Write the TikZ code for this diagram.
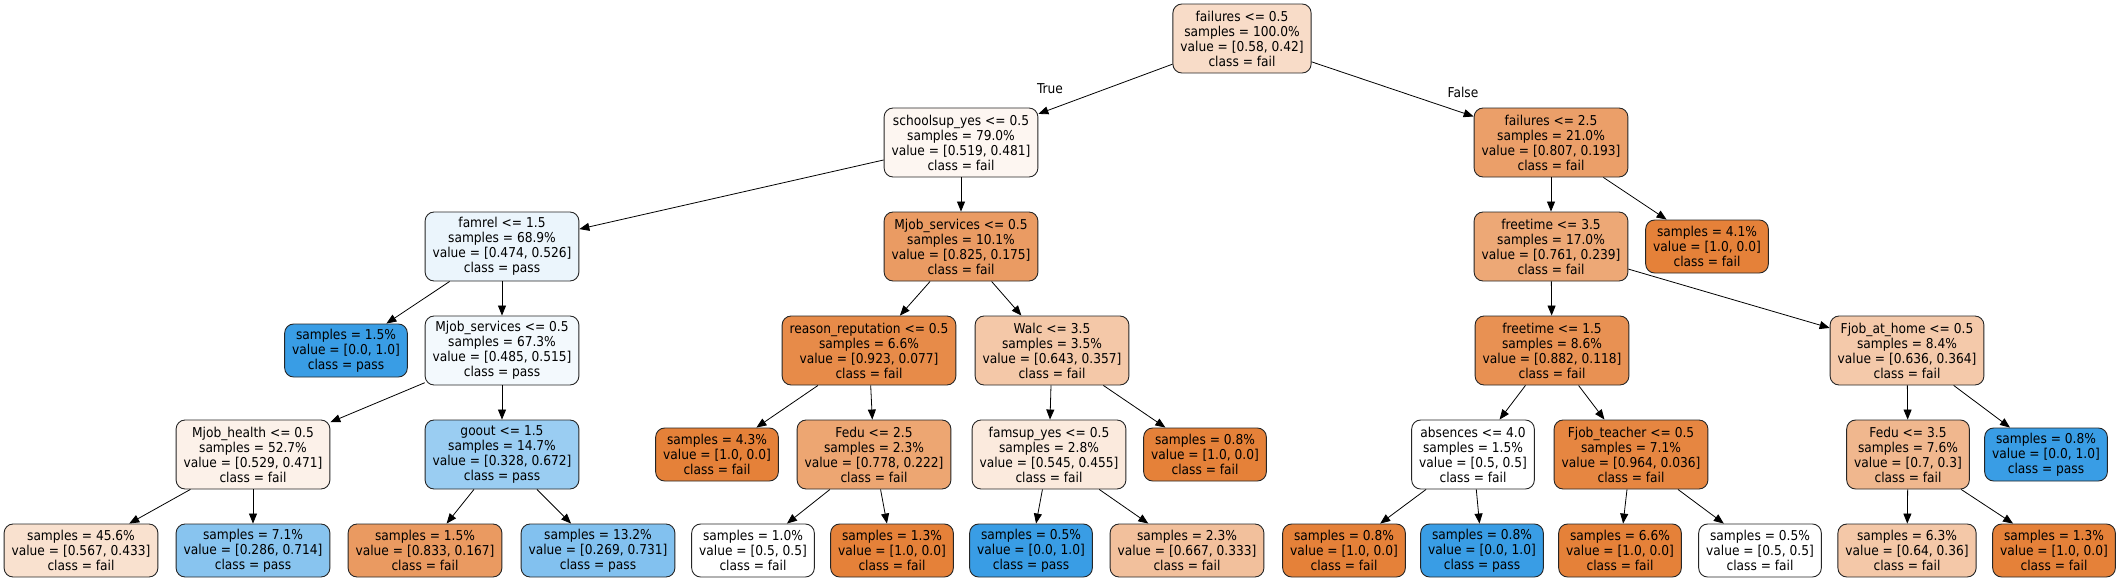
\documentclass[tikz,border=0pt]{standalone}
\usepackage{fontspec}
\setmainfont{DejaVu Sans Condensed}
\usepackage{tikz}
\usetikzlibrary{arrows.meta}
\definecolor{failorange}{RGB}{229,129,57}
\definecolor{passblue}{RGB}{57,157,229}

\begin{document}
\begin{tikzpicture}[x=1pt, y=-1pt,
	every node/.style={font=\fontsize{13.6}{15}\selectfont, align=center},
	split/.style={draw=black!85, line width=0.9pt, rounded corners=9pt, minimum height=69pt, inner xsep=7.5pt, inner ysep=1pt},
	leaf/.style={split, minimum height=53pt},
	edge/.style={-{Triangle[length=10pt,width=8pt]}, line width=0.8pt}]
				\useasboundingbox (0,0) rectangle (2119,581);
				
				% Draw root
				\node[split, fill=failorange!28!white] (n0) at (1242,38.5) {failures <= 0.5\\samples = 100.0\%\\value = [0.58, 0.42]\\class = fail};
				
				% Draw level 1
				\node[split, fill=failorange!7!white] (n1) at (961,142.5) {schoolsup\_yes <= 0.5\\samples = 79.0\%\\value = [0.519, 0.481]\\class = fail};
				\node[split, fill=failorange!76!white] (n22) at (1551,142.5) {failures <= 2.5\\samples = 21.0\%\\value = [0.807, 0.193]\\class = fail};
				
				% Draw level 2
				\node[split, fill=passblue!10!white] (n2) at (502,246.5) {famrel <= 1.5\\samples = 68.9\%\\value = [0.474, 0.526]\\class = pass};
				\node[split, fill=failorange!79!white] (n11) at (961,246.5) {Mjob\_services <= 0.5\\samples = 10.1\%\\value = [0.825, 0.175]\\class = fail};
				\node[split, fill=failorange!69!white] (n23) at (1551,246.5) {freetime <= 3.5\\samples = 17.0\%\\value = [0.761, 0.239]\\class = fail};
				\node[leaf, fill=failorange] (n36) at (1707,246.5) {samples = 4.1\%\\value = [1.0, 0.0]\\class = fail};
				
				% Draw level 3
				\node[leaf, fill=passblue] (n3) at (346,350.5) {samples = 1.5\%\\value = [0.0, 1.0]\\class = pass};
				\node[split, fill=passblue!6!white] (n4) at (502,350.5) {Mjob\_services <= 0.5\\samples = 67.3\%\\value = [0.485, 0.515]\\class = pass};
				\node[split, fill=failorange!92!white] (n12) at (869,350.5) {reason\_reputation <= 0.5\\samples = 6.6\%\\value = [0.923, 0.077]\\class = fail};
				\node[split, fill=failorange!44!white] (n17) at (1052,350.5) {Walc <= 3.5\\samples = 3.5\%\\value = [0.643, 0.357]\\class = fail};
				\node[split, fill=failorange!87!white] (n24) at (1552,350.5) {freetime <= 1.5\\samples = 8.6\%\\value = [0.882, 0.118]\\class = fail};
				\node[split, fill=failorange!43!white] (n31) at (1907,350.5) {Fjob\_at\_home <= 0.5\\samples = 8.4\%\\value = [0.636, 0.364]\\class = fail};
				
				% Draw level 4
				\node[split, fill=failorange!11!white] (n5) at (253,454.5) {Mjob\_health <= 0.5\\samples = 52.7\%\\value = [0.529, 0.471]\\class = fail};
				\node[split, fill=passblue!51!white] (n8) at (502,454.5) {goout <= 1.5\\samples = 14.7\%\\value = [0.328, 0.672]\\class = pass};
				\node[leaf, fill=failorange] (n13) at (717,454.5) {samples = 4.3\%\\value = [1.0, 0.0]\\class = fail};
				\node[split, fill=failorange!71!white] (n14) at (874,454.5) {Fedu <= 2.5\\samples = 2.3\%\\value = [0.778, 0.222]\\class = fail};
				\node[split, fill=failorange!17!white] (n18) at (1049,454.5) {famsup\_yes <= 0.5\\samples = 2.8\%\\value = [0.545, 0.455]\\class = fail};
				\node[leaf, fill=failorange] (n21) at (1205,454.5) {samples = 0.8\%\\value = [1.0, 0.0]\\class = fail};
				\node[split, fill=white] (n25) at (1473,454.5) {absences <= 4.0\\samples = 1.5\%\\value = [0.5, 0.5]\\class = fail};
				\node[split, fill=failorange!96!white] (n28) at (1631,454.5) {Fjob\_teacher <= 0.5\\samples = 7.1\%\\value = [0.964, 0.036]\\class = fail};
				\node[split, fill=failorange!57!white] (n32) at (1908,454.5) {Fedu <= 3.5\\samples = 7.6\%\\value = [0.7, 0.3]\\class = fail};
				\node[leaf, fill=passblue] (n35) at (2046,454.5) {samples = 0.8\%\\value = [0.0, 1.0]\\class = pass};
				
				% Draw level 5 (leaves)
				\node[leaf, fill=failorange!24!white] (n6) at (81,550.5) {samples = 45.6\%\\value = [0.567, 0.433]\\class = fail};
				\node[leaf, fill=passblue!60!white] (n7) at (253,550.5) {samples = 7.1\%\\value = [0.286, 0.714]\\class = pass};
				\node[leaf, fill=failorange!80!white] (n9) at (425,550.5) {samples = 1.5\%\\value = [0.833, 0.167]\\class = fail};
				\node[leaf, fill=passblue!63!white] (n10) at (598,550.5) {samples = 13.2\%\\value = [0.269, 0.731]\\class = pass};
				\node[leaf, fill=white] (n15) at (753,550.5) {samples = 1.0\%\\value = [0.5, 0.5]\\class = fail};
				\node[leaf, fill=failorange] (n16) at (892,550.5) {samples = 1.3\%\\value = [1.0, 0.0]\\class = fail};
				\node[leaf, fill=passblue] (n19) at (1031,550.5) {samples = 0.5\%\\value = [0.0, 1.0]\\class = pass};
				\node[leaf, fill=failorange!50!white] (n20) at (1187,550.5) {samples = 2.3\%\\value = [0.667, 0.333]\\class = fail};
				\node[leaf, fill=failorange] (n26) at (1344,550.5) {samples = 0.8\%\\value = [1.0, 0.0]\\class = fail};
				\node[leaf, fill=passblue] (n27) at (1482,550.5) {samples = 0.8\%\\value = [0.0, 1.0]\\class = pass};
				\node[leaf, fill=failorange] (n29) at (1620,550.5) {samples = 6.6\%\\value = [1.0, 0.0]\\class = fail};
				\node[leaf, fill=white] (n30) at (1760,550.5) {samples = 0.5\%\\value = [0.5, 0.5]\\class = fail};
				\node[leaf, fill=failorange!44!white] (n33) at (1907,550.5) {samples = 6.3\%\\value = [0.64, 0.36]\\class = fail};
				\node[leaf, fill=failorange] (n34) at (2054,550.5) {samples = 1.3\%\\value = [1.0, 0.0]\\class = fail};
				
				% Draw branch labels
				\node (lbltrue) at (1050,89) {True};
				\node (lblfalse) at (1463,92) {False};
				
				% Draw edges
				\draw[edge] (n0) -- (n1);
				\draw[edge] (n0) -- (n22);
				\draw[edge] (n1) -- (n2);
				\draw[edge] (n1) -- (n11);
				\draw[edge] (n2) -- (n3);
				\draw[edge] (n2) -- (n4);
				\draw[edge] (n4) -- (n5);
				\draw[edge] (n4) -- (n8);
				\draw[edge] (n5) -- (n6);
				\draw[edge] (n5) -- (n7);
				\draw[edge] (n8) -- (n9);
				\draw[edge] (n8) -- (n10);
				\draw[edge] (n11) -- (n12);
				\draw[edge] (n11) -- (n17);
				\draw[edge] (n12) -- (n13);
				\draw[edge] (n12) -- (n14);
				\draw[edge] (n14) -- (n15);
				\draw[edge] (n14) -- (n16);
				\draw[edge] (n17) -- (n18);
				\draw[edge] (n17) -- (n21);
				\draw[edge] (n18) -- (n19);
				\draw[edge] (n18) -- (n20);
				\draw[edge] (n22) -- (n23);
				\draw[edge] (n22) -- (n36);
				\draw[edge] (n23) -- (n24);
				\draw[edge] (n23) -- (n31);
				\draw[edge] (n24) -- (n25);
				\draw[edge] (n24) -- (n28);
				\draw[edge] (n25) -- (n26);
				\draw[edge] (n25) -- (n27);
				\draw[edge] (n28) -- (n29);
				\draw[edge] (n28) -- (n30);
				\draw[edge] (n31) -- (n32);
				\draw[edge] (n31) -- (n35);
				\draw[edge] (n32) -- (n33);
				\draw[edge] (n32) -- (n34);
			\end{tikzpicture}
\end{document}
